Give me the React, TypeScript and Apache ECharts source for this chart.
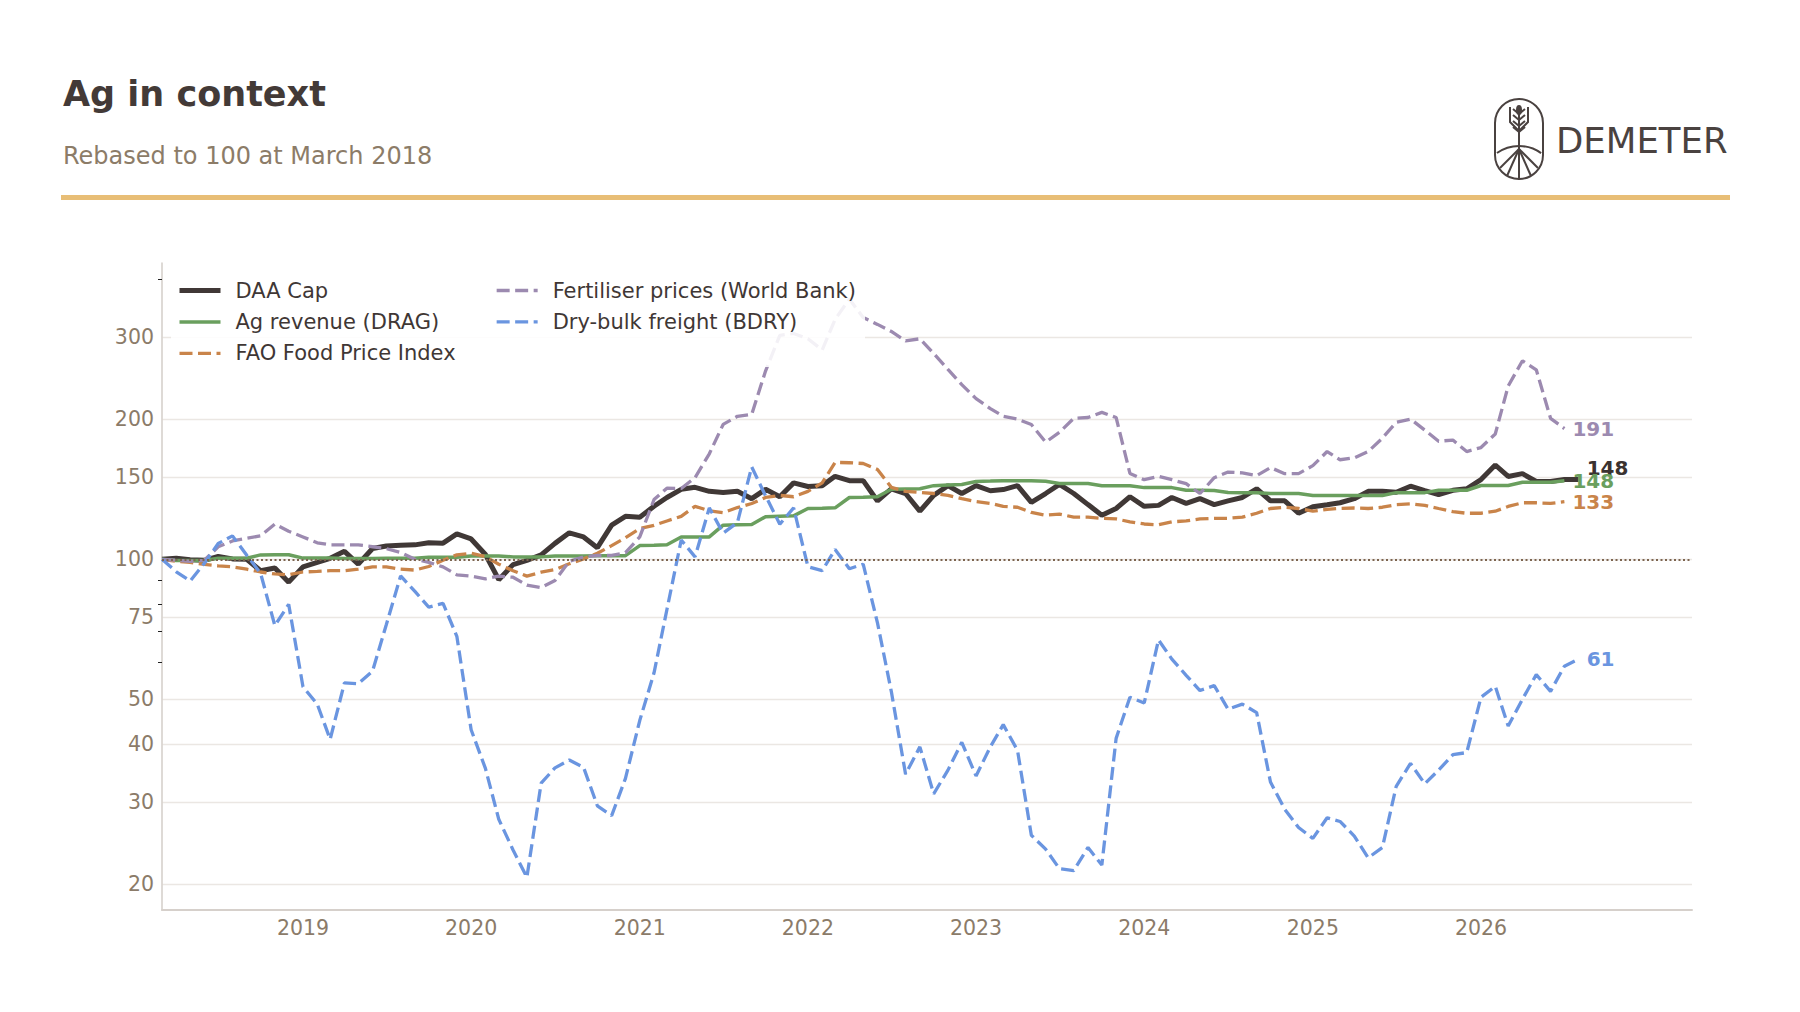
import { useEffect, useRef } from "react";
import * as echarts from "echarts";

// monthly observations, first month = March 2018
const START_YEAR = 2018;
const START_MONTH = 3;

const daaCap = [
  100, 100.5, 99.8, 99.5, 101.4, 100.2, 100, 94.5, 95.8, 89.3,
  96.3, 98.5, 100.5, 104, 97.6, 105.5, 106.8, 107.2, 107.4, 108.5,
  108.3, 113.4, 110.6, 102.4, 90.4, 97.4, 99.5, 102.2, 108.2, 114,
  111.7, 105.9, 118.4, 123.7, 123.2, 130, 135.8, 141.4, 142.8, 140,
  139.2, 140, 135, 141.4, 136.3, 146, 143.4, 144, 150.8, 147.6,
  147.6, 133.5, 141.8, 138.5, 126.9, 137.2, 144, 138.5, 144, 140.4,
  141.2, 144, 132.6, 138.5, 144.9, 138.5, 131.1, 124.4, 128.6, 136.3,
  130, 130.6, 135.8, 131.9, 135, 131.1, 133.5, 135.8, 141.8, 133.6,
  133.6, 125.6, 129.7, 131, 132.3, 135, 140, 140, 139.4, 143.6,
  140.5, 137.7, 140.7, 141.8, 148.4, 159.5, 150.7, 152.8, 147, 147,
  148.4, 148.4,
];

const agRevenue = [
  100, 99.4, 99.4, 99.4, 100.5, 100.5, 100.5, 102.2, 102.3, 102.3,
  100.6, 100.6, 100.6, 100.4, 100.4, 100.4, 100.5, 100.5, 100.5, 101,
  101, 101, 101.6, 101.6, 101.6, 101.2, 101.2, 101.2, 101.6, 101.6,
  101.6, 101.8, 101.8, 101.8, 107, 107.2, 107.5, 111.7, 111.7, 111.7,
  118.4, 118.6, 118.8, 123.5, 123.8, 124, 128.6, 128.8, 129, 135.8,
  136, 136.3, 141.4, 141.6, 141.8, 144, 144.5, 144.8, 147, 147.3,
  147.6, 147.6, 147.6, 147.2, 145.6, 145.6, 145.6, 144, 144, 144,
  142.6, 142.6, 142.6, 140.8, 140.8, 140.6, 139.2, 139.1, 139.1, 138.5,
  138.5, 138.5, 137.2, 137.2, 137.2, 137.2, 137.2, 137.2, 139.1, 139.1,
  139.1, 140.7, 140.7, 140.7, 144.1, 144.1, 144.1, 146.4, 146.4, 146.4,
  147.6,
];

const faoFood = [
  100, 99, 98.5, 97.5, 96.8, 96.3, 95.2, 93.9, 93, 92.6,
  93.9, 94.2, 94.5, 94.5, 95.2, 96.3, 96.3, 95.2, 94.8, 96.5,
  99.5, 102.2, 103, 101.3, 97.6, 94.5, 92, 93.8, 95, 97.8,
  100.2, 103, 107, 111.3, 116.4, 118.3, 120.9, 123.7, 130, 127.2,
  126, 129.2, 131.8, 135.8, 137.2, 136.3, 140, 146, 161.6, 161.3,
  160.7, 156, 142.8, 140, 139.2, 138.5, 137.2, 135, 133.1, 131.9,
  129.9, 129.4, 126.1, 124.4, 125.1, 123.2, 123.2, 122.5, 122.1, 120.4,
  119.1, 118.6, 120.4, 120.9, 122.1, 122.5, 122.5, 123.2, 125.6, 128.6,
  129.4, 128.6, 126.9, 128.1, 128.6, 128.9, 128.6, 129.4, 131.1, 131.6,
  130.6, 128.6, 126.6, 125.6, 125.6, 126.9, 129.9, 132.3, 132.3, 131.9,
  133,
];

const fertiliser = [
  100, 99.5, 99, 99.5, 106.4, 109.5, 111, 112.3, 119, 114.9,
  111.7, 108.5, 107.4, 107.4, 107.4, 106.4, 105.4, 103.4, 100, 98.5,
  96.3, 92.6, 92, 90.8, 92, 91.5, 88, 86.9, 90, 99,
  101.2, 101.9, 101.9, 103.3, 111.7, 134.4, 142.2, 142, 149.8, 168.6,
  195, 203, 205, 254, 303, 306, 298, 282, 328, 363,
  331, 320, 309, 295, 298, 277, 256, 237.4, 221.6, 210.9,
  203, 200.2, 195, 178.6, 187.5, 201, 201.8, 207, 201.8, 153,
  148.3, 150.8, 148.3, 145.4, 138.5, 149.8, 154, 153.4, 151.3, 157.5,
  152.8, 152.8, 159, 170.5, 163.7, 165.3, 170.5, 182.2, 197, 200.2,
  189.6, 179.4, 180.5, 170.5, 173.9, 186, 235.8, 267.2, 255.6, 201,
  191,
];

const dryBulk = [
  100, 94, 89.8, 98, 108.1, 112.3, 102, 93.3, 72, 80,
  53.2, 48.8, 41, 54.2, 54, 57.5, 72.4, 92.1, 85.3, 78.9,
  80.4, 68.3, 43, 35.5, 27.6, 23.7, 20.7, 33, 35.6, 37,
  35.7, 29.5, 28.1, 33.8, 45, 57, 78, 110, 101.2, 129,
  113.8, 120, 158, 137, 119, 129, 96.4, 94.5, 105, 95.4,
  97.6, 73, 52, 34.5, 39.5, 31.3, 35.2, 40.4, 34.2, 39.5,
  44.1, 38.8, 25.5, 23.8, 21.6, 21.4, 24, 22, 41.2, 50.5,
  49.1, 67.1, 61, 56.3, 52.2, 53.5, 47.6, 48.8, 46.8, 33.2,
  29, 26.5, 25.1, 27.8, 27.3, 25.4, 22.8, 24, 32.5, 36.4,
  32.9, 35.2, 38, 38.4, 50.5, 53.3, 43.8, 50, 56.5, 52,
  58.9, 61,
];

const yearTicks = [2019, 2020, 2021, 2022, 2023, 2024, 2025, 2026];
const yTickLabels = [20, 30, 40, 50, 75, 100, 150, 200, 300];
const yMinorTicks = [60, 70, 80, 90, 400];

const FONT = "DejaVu Sans";
const MUTED = "#8b7b69";
const INK = "#403836";

const DAA_W = 5;
const DRAG_W = 3.5;
const DASH_W = 3.3;

function monthTime(i: number) {
  return new Date(START_YEAR, START_MONTH - 1 + i, 1).getTime();
}

function toPoints(values: number[]) {
  return values.map((v, i) => [monthTime(i), v]);
}

function endLabel(color: string, dy: number) {
  return {
    show: true,
    formatter: (p: any) => String(Math.round(p.value[1])),
    color,
    fontFamily: FONT,
    fontSize: 20,
    fontWeight: "bold",
    distance: 8,
    offset: [0, dy],
  };
}

function logoElements() {
  const stroke = "#4a4240";
  const ls = { stroke, lineWidth: 2, fill: "none" };
  const leaves = [114, 120, 126, 132].map((y) => ({
    type: "polyline",
    shape: { points: [[1513, y - 5], [1519, y], [1525, y - 5]] },
    style: ls,
  }));
  const rays = [
    [1500, 168], [1507, 176], [1519, 180], [1531, 176], [1538, 168],
  ].map(([x, y]) => ({
    type: "line",
    shape: { x1: 1519, y1: 149, x2: x, y2: y },
    style: ls,
  }));
  return [
    { type: "rect", shape: { x: 1495, y: 99, width: 48, height: 80, r: 24 }, style: ls },
    { type: "line", shape: { x1: 1519, y1: 106, x2: 1519, y2: 149 }, style: ls },
    { type: "polyline", shape: { points: [[1510, 107], [1510, 122], [1519, 131]] }, style: ls },
    { type: "polyline", shape: { points: [[1528, 107], [1528, 122], [1519, 131]] }, style: ls },
    { type: "ellipse", shape: { cx: 1519, cy: 110, rx: 2, ry: 4 }, style: ls },
    ...leaves,
    {
      type: "arc",
      shape: { cx: 1519, cy: 184, r: 38, startAngle: -2.19, endAngle: -0.95, clockwise: true },
      style: ls,
    },
    ...rays,
    {
      type: "text",
      x: 1556,
      y: 140,
      style: { text: "DEMETER", font: `35.5px "${FONT}"`, fill: stroke, verticalAlign: "middle" },
    },
  ];
}

export default function App() {
  const domRef = useRef<HTMLDivElement>(null);

  useEffect(() => {
    if (!domRef.current) return;
    const chart = echarts.init(domRef.current, null, { renderer: "svg" });

    const dashed = [13, 5.5];
    const legendBase = {
      orient: "vertical",
      top: 280,
      padding: 0,
      itemWidth: 41,
      itemHeight: 20,
      itemGap: 10.4,
      z: 60,
      selectedMode: false,
      itemStyle: { opacity: 0 },
      textStyle: { fontFamily: FONT, fontSize: 21, color: "#3f3735", padding: [0, 0, 0, 10] },
    };

    chart.setOption({
      animation: false,
      backgroundColor: "#ffffff",
      textStyle: { fontFamily: FONT },
      title: [
        {
          text: "Ag in context",
          left: 63,
          top: 76,
          padding: 0,
          textStyle: { fontFamily: FONT, fontSize: 35, fontWeight: "bold", color: "#433a37" },
        },
        {
          text: "Rebased to 100 at March 2018",
          left: 63,
          top: 143.5,
          padding: 0,
          textStyle: { fontFamily: FONT, fontSize: 24, fontWeight: "normal", color: "#8c7c68" },
        },
      ],
      graphic: [
        { type: "rect", shape: { x: 61, y: 195, width: 1669, height: 5 }, style: { fill: "#e8be76" } },
        { type: "group", children: logoElements() },
        // semi-transparent legend box drawn over the lines
        {
          type: "rect",
          z: 50,
          shape: { x: 171, y: 268, width: 694, height: 99 },
          style: { fill: "rgba(255,255,255,0.88)" },
        },
      ],
      legend: [
        {
          ...legendBase,
          data: [
            { name: "DAA Cap", lineStyle: { width: DAA_W } },
            { name: "Ag revenue (DRAG)", lineStyle: { width: DRAG_W } },
            { name: "FAO Food Price Index", lineStyle: { width: DASH_W } },
          ],
          left: 177,
        },
        {
          ...legendBase,
          data: [
            { name: "Fertiliser prices (World Bank)", lineStyle: { width: DASH_W } },
            { name: "Dry-bulk freight (BDRY)", lineStyle: { width: DASH_W } },
          ],
          left: 495,
        },
      ],
      grid: { left: 162, right: 108, top: 263, bottom: 102, containLabel: false },
      xAxis: {
        type: "value",
        min: new Date(2018, 2, 1).getTime(),
        max: new Date(2027, 3, 4).getTime(),
        axisLine: { show: true, lineStyle: { color: "#d6d0cb", width: 2 } },
        axisTick: { show: false, customValues: yearTicks.map((y) => new Date(y, 0, 1).getTime()) },
        splitLine: { show: false },
        axisLabel: {
          customValues: yearTicks.map((y) => new Date(y, 0, 1).getTime()),
          formatter: (v: number) => String(new Date(v).getFullYear()),
          color: MUTED,
          fontSize: 20.5,
          fontFamily: FONT,
          margin: 7,
        },
      },
      yAxis: [
        {
          type: "log",
          logBase: 10,
          min: 17.61,
          max: 433.7,
          axisLine: { show: true, lineStyle: { color: "#d9d4cf", width: 1.7 } },
          axisTick: { show: false, customValues: yTickLabels },
          axisLabel: {
            customValues: yTickLabels,
            formatter: (v: number) => String(Math.round(v)),
            color: MUTED,
            fontSize: 20.5,
            fontFamily: FONT,
            margin: 8,
          },
          splitLine: { show: true, lineStyle: { color: "#ebe7e3", width: 1.3 } },
        },
        {
          type: "log",
          logBase: 10,
          min: 17.61,
          max: 433.7,
          position: "left",
          offset: 0,
          axisLine: { show: false },
          axisTick: {
            show: true,
            customValues: yMinorTicks,
            length: 4,
            lineStyle: { color: "#222222", width: 1 },
          },
          axisLabel: { show: false },
          splitLine: { show: false },
        },
      ],
      series: [
        {
          name: "DAA Cap",
          type: "line",
          data: toPoints(daaCap),
          symbol: "none",
          lineStyle: { color: INK, width: DAA_W },
          itemStyle: { color: INK },
          endLabel: endLabel("#3a3230", -12),
          markLine: {
            silent: true,
            symbol: "none",
            label: { show: false },
            lineStyle: { color: "#7d6550", type: [2, 2.5], width: 1.8 },
            data: [{ yAxis: 100 }],
          },
        },
        {
          name: "Ag revenue (DRAG)",
          type: "line",
          data: toPoints(agRevenue),
          symbol: "none",
          lineStyle: { color: "#6a9f5e", width: DRAG_W },
          itemStyle: { color: "#6a9f5e" },
          endLabel: endLabel("#6a9f5e", 0),
        },
        {
          name: "FAO Food Price Index",
          type: "line",
          data: toPoints(faoFood),
          symbol: "none",
          lineStyle: { color: "#c9844a", width: DASH_W, type: dashed },
          itemStyle: { color: "#c9844a" },
          endLabel: endLabel("#c9844a", 0),
        },
        {
          name: "Fertiliser prices (World Bank)",
          type: "line",
          data: toPoints(fertiliser),
          symbol: "none",
          lineStyle: { color: "#9c8ab0", width: DASH_W, type: dashed },
          itemStyle: { color: "#9c8ab0" },
          endLabel: endLabel("#9c8ab0", 0),
        },
        {
          name: "Dry-bulk freight (BDRY)",
          type: "line",
          data: toPoints(dryBulk),
          symbol: "none",
          lineStyle: { color: "#6a95e0", width: DASH_W, type: dashed },
          itemStyle: { color: "#6a95e0" },
          endLabel: endLabel("#6a95e0", 0),
        },
      ],
    });

    return () => {
      chart.dispose();
    };
  }, []);

  return (
    <div
      ref={domRef}
      style={{ position: "fixed", left: 0, top: 0, width: 1800, height: 1012 }}
    />
  );
}
